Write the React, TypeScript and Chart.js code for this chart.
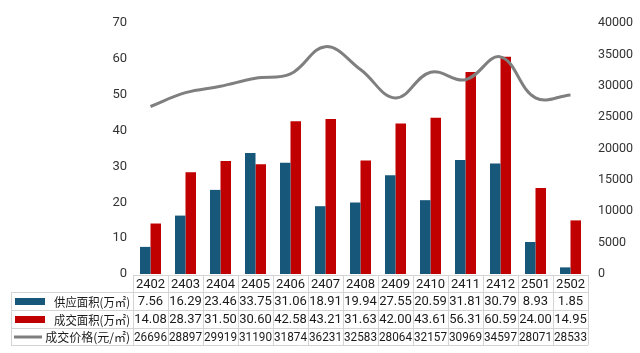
import React, { useEffect, useRef } from "react";
import { Chart, registerables } from "chart.js";

Chart.register(...registerables);

const categories = ["2402", "2403", "2404", "2405", "2406", "2407", "2408", "2409", "2410", "2411", "2412", "2501", "2502"];
const supplyArea = [7.56, 16.29, 23.46, 33.75, 31.06, 18.91, 19.94, 27.55, 20.59, 31.81, 30.79, 8.93, 1.85];
const dealArea = [14.08, 28.37, 31.5, 30.6, 42.58, 43.21, 31.63, 42.0, 43.61, 56.31, 60.59, 24.0, 14.95];
const dealPrice = [26696, 28897, 29919, 31190, 31874, 36231, 32583, 28064, 32157, 30969, 34597, 28071, 28533];

const seriesNames = ["供应面积(万㎡)", "成交面积(万㎡)", "成交价格(元/㎡)"];
const BLUE = "#17577A";
const RED = "#C00000";
const GRAY = "#7F7F7F";
const FONT_FAMILY = 'Roboto, "Noto Sans CJK SC", sans-serif';
const CJK_FAMILY = '"Noto Sans CJK SC", sans-serif';

const tablePlugin = {
  id: "dataTable",
  afterDraw(chart: any) {
    const ctx = chart.ctx;
    const xs = chart.scales.x;
    const area = chart.chartArea;
    const n = categories.length;
    const colW = (area.right - area.left) / n;
    const left0 = 11;
    const rowTops = [area.bottom + 1, area.bottom + 18, area.bottom + 36, area.bottom + 54, area.bottom + 71];
    ctx.save();
    ctx.strokeStyle = "#D4D4D4";
    ctx.lineWidth = 1;
    const hline = (y: number, x1: number, x2: number) => {
      ctx.beginPath();
      ctx.moveTo(x1, Math.round(y) + 0.5);
      ctx.lineTo(x2, Math.round(y) + 0.5);
      ctx.stroke();
    };
    const vline = (x: number, y1: number, y2: number) => {
      ctx.beginPath();
      ctx.moveTo(Math.round(x) + 0.5, y1);
      ctx.lineTo(Math.round(x) + 0.5, y2);
      ctx.stroke();
    };
    hline(rowTops[0], area.left, area.right);
    for (let r = 1; r < rowTops.length; r++) hline(rowTops[r], left0, area.right);
    for (let i = 0; i <= n; i++) vline(area.left + i * colW, rowTops[0], rowTops[4]);
    vline(left0, rowTops[1], rowTops[4]);

    ctx.fillStyle = "#1a1a1a";
    ctx.textAlign = "center";
    ctx.textBaseline = "middle";
    ctx.font = "13px " + FONT_FAMILY;
    const rows = [
      categories,
      supplyArea.map((v) => v.toFixed(2)),
      dealArea.map((v) => v.toFixed(2)),
      dealPrice.map((v) => String(v)),
    ];
    rows.forEach((row, r) => {
      const cy = (rowTops[r] + rowTops[r + 1]) / 2 + 1;
      row.forEach((txt, i) => {
        const cx = xs.getPixelForValue(i);
        ctx.fillText(txt, cx, cy, colW - 2);
      });
    });

    // legend column
    ctx.textAlign = "right";
    for (let r = 0; r < 3; r++) {
      const cy = (rowTops[r + 1] + rowTops[r + 2]) / 2;
      if (r < 2) {
        ctx.fillStyle = r === 0 ? BLUE : RED;
        ctx.fillRect(15, cy - 3, 30, 7);
      } else {
        ctx.strokeStyle = GRAY;
        ctx.lineWidth = 3;
        ctx.beginPath();
        ctx.moveTo(14, cy + 0.5);
        ctx.lineTo(42, cy + 0.5);
        ctx.stroke();
      }
      ctx.fillStyle = "#1a1a1a";
      ctx.font = "12px " + CJK_FAMILY;
      ctx.fillText(seriesNames[r], 130, cy + 1, r < 2 ? 76 : 87);
    }
    ctx.restore();
  },
};

export default function App() {
  const ref = useRef<HTMLCanvasElement | null>(null);
  useEffect(() => {
    document.body.style.margin = "0";
    const canvas = ref.current;
    if (!canvas) return;
    const chart = new Chart(canvas, {
      type: "bar",
      data: {
        labels: categories,
        datasets: [
          {
            type: "line",
            label: seriesNames[2],
            data: dealPrice,
            yAxisID: "y1",
            borderColor: GRAY,
            backgroundColor: GRAY,
            borderWidth: 3,
            pointRadius: 0,
            tension: 0.4,
            order: 0,
          },
          {
            type: "bar",
            label: seriesNames[0],
            data: supplyArea,
            yAxisID: "y",
            backgroundColor: BLUE,
            categoryPercentage: 0.6,
            barPercentage: 1,
            order: 1,
          },
          {
            type: "bar",
            label: seriesNames[1],
            data: dealArea,
            yAxisID: "y",
            backgroundColor: RED,
            categoryPercentage: 0.6,
            barPercentage: 1,
            order: 1,
          },
        ] as any,
      },
      options: {
        animation: false,
        responsive: false,
        layout: { padding: { left: 0, right: 0, top: 23, bottom: 79 } },
        plugins: { legend: { display: false }, tooltip: { enabled: false } },
        scales: {
          x: { display: false },
          y: {
            position: "left",
            min: 0,
            max: 70,
            ticks: { stepSize: 10, padding: 6, color: "#333", font: { size: 13, family: FONT_FAMILY } },
            grid: { display: false, drawTicks: false },
            border: { display: false },
            afterFit: (s: any) => {
              s.width = 133;
            },
          },
          y1: {
            position: "right",
            min: 0,
            max: 40000,
            ticks: {
              stepSize: 5000,
              padding: 10,
              color: "#333",
              font: { size: 12.5, family: FONT_FAMILY },
              callback: (v: any) => String(v),
            },
            grid: { display: false, drawTicks: false },
            border: { display: false },
            afterFit: (s: any) => {
              s.width = 52;
            },
          },
        },
      } as any,
      plugins: [tablePlugin],
    });
    return () => chart.destroy();
  }, []);
  return (
    <div style={{ width: 640, height: 353, background: "#fff" }}>
      <canvas ref={ref} width={640} height={353} />
    </div>
  );
}
